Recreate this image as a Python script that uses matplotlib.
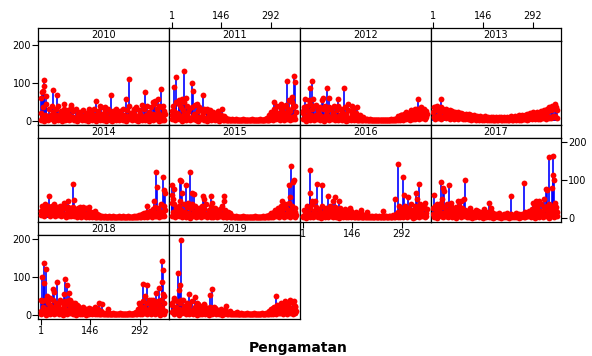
import matplotlib
matplotlib.use("Agg")
import matplotlib.pyplot as plt
import numpy as np

plt.rcParams['font.family'] = ['DejaVu Sans']

years = [2010, 2011, 2012, 2013, 2014, 2015, 2016, 2017, 2018, 2019]
x_ticks = [1, 146, 292]
y_ticks = [0, 100, 200]
x_label = "Pengamatan"

# sampling grids of daily observations (day of year)
grid_days = list(range(1, 366, 4))
low_days = list(range(3, 366, 4))

base_2010 = [20, 8, 35, 15, 45, 5, 30, 12, 40, 22, 8, 30, 15, 38, 5, 25, 12, 30, 18, 6, 28, 14, 35,
             10, 25, 5, 30, 18, 8, 22, 12, 28, 6, 20, 15, 32, 8, 24, 10, 30, 14, 5, 26, 12, 35, 18,
             8, 28, 14, 30, 5, 22, 12, 25, 8, 30, 18, 6, 26, 10, 32, 15, 5, 28, 12, 40, 20, 8, 30,
             14, 35, 10, 28, 18, 42, 8, 30, 15, 38, 22, 10, 35, 18, 45, 12, 30, 20, 40, 15, 35, 25, 18]
base_2011 = [15, 40, 25, 50, 20, 45, 10, 35, 28, 48, 15, 40, 22, 30, 8, 35, 18, 42, 12, 25, 35, 10, 28,
             20, 30, 8, 25, 15, 28, 10, 22, 5, 18, 12, 25, 8, 15, 5, 12, 4, 8, 3, 6, 3, 5, 3,
             3, 4, 2, 3, 3, 2, 4, 3, 2, 3, 3, 2, 3, 4, 2, 3, 3, 2, 3, 4, 3, 2, 5,
             4, 8, 15, 10, 22, 18, 30, 25, 40, 20, 35, 45, 28, 38, 20, 42, 30, 55, 25, 48, 35, 40, 22]
base_2012 = [20, 35, 10, 40, 25, 45, 15, 30, 38, 12, 42, 28, 18, 35, 10, 30, 40, 15, 25, 35, 8, 30, 20,
             38, 12, 28, 40, 15, 30, 22, 10, 35, 18, 28, 8, 25, 15, 30, 10, 20, 12, 8, 15, 5, 10, 5,
             4, 6, 3, 5, 3, 3, 2, 3, 3, 2, 3, 3, 2, 3, 3, 2, 3, 3, 2, 4, 3, 5, 6,
             8, 12, 6, 15, 10, 18, 12, 22, 15, 20, 28, 15, 25, 30, 18, 32, 22, 28, 35, 20, 30, 25, 18]
base_2013 = [22, 35, 28, 38, 30, 25, 36, 30, 24, 32, 26, 20, 28, 22, 26, 18, 24, 20, 22, 16, 20, 17, 19,
             14, 18, 15, 17, 12, 15, 11, 14, 9, 13, 10, 12, 8, 11, 9, 12, 8, 10, 8, 11, 7, 9, 8,
             9, 7, 10, 8, 9, 6, 10, 8, 11, 7, 9, 12, 8, 10, 13, 9, 12, 15, 10, 14, 12, 16, 13,
             18, 14, 20, 16, 22, 18, 15, 24, 20, 17, 25, 22, 28, 20, 30, 25, 35, 28, 40, 32, 45, 35, 28]
base_2014 = [18, 30, 25, 35, 20, 32, 28, 15, 30, 25, 35, 12, 28, 20, 32, 15, 25, 30, 10, 22, 28, 15, 25,
             12, 28, 20, 10, 25, 15, 28, 8, 20, 12, 25, 10, 18, 8, 15, 6, 12, 5, 10, 4, 8, 3, 5,
             3, 4, 2, 3, 5, 3, 2, 4, 3, 2, 3, 4, 2, 3, 5, 3, 2, 3, 4, 2, 3, 3, 4,
             3, 5, 4, 8, 5, 10, 6, 12, 8, 15, 10, 18, 12, 22, 15, 28, 10, 25, 18, 35, 15, 30, 20]
base_2015 = [40, 15, 35, 25, 10, 30, 45, 20, 8, 35, 15, 28, 40, 12, 25, 35, 10, 30, 18, 5, 25, 15, 30,
             10, 22, 35, 8, 20, 12, 30, 5, 18, 25, 10, 15, 22, 8, 30, 12, 20, 5, 15, 8, 12, 4, 6,
             3, 4, 2, 3, 3, 2, 4, 3, 2, 3, 3, 2, 3, 2, 3, 4, 2, 3, 3, 2, 3, 4, 3,
             5, 4, 8, 6, 12, 8, 15, 20, 10, 25, 15, 30, 20, 10, 35, 25, 15, 40, 20, 30, 12, 25, 8]
base_2016 = [5, 20, 10, 30, 15, 25, 8, 35, 18, 12, 28, 5, 22, 15, 30, 10, 20, 25, 8, 18, 30, 12, 22,
             15, 28, 10, 20, 25, 8, 18, 12, 22, 6, 15, 10, 18, 5, 12, 8, 15, 4, 10, 6, 12, 3, 8,
             5, 3, 6, 4, 3, 5, 3, 4, 6, 3, 4, 3, 5, 3, 4, 6, 3, 5, 4, 3, 8, 5, 10,
             6, 15, 10, 25, 12, 20, 30, 15, 25, 10, 35, 20, 15, 30, 22, 10, 28, 35, 18, 25, 30, 12, 22]
base_2017 = [10, 30, 20, 35, 15, 25, 40, 12, 28, 20, 35, 8, 25, 30, 15, 22, 10, 28, 18, 32, 12, 25, 15,
             20, 8, 18, 12, 25, 6, 15, 10, 20, 5, 18, 12, 8, 15, 22, 10, 6, 14, 8, 18, 5, 12, 8,
             10, 5, 12, 6, 8, 4, 10, 6, 12, 5, 8, 10, 4, 8, 6, 12, 5, 9, 6, 10, 8, 15, 10,
             12, 18, 8, 22, 15, 25, 12, 30, 20, 18, 35, 15, 28, 22, 32, 18, 35, 25, 30, 20, 38, 28, 15]
base_2018 = [10, 35, 20, 40, 15, 30, 45, 25, 12, 38, 20, 30, 8, 25, 40, 15, 30, 22, 35, 10, 28, 40, 18,
             25, 12, 30, 15, 22, 8, 18, 12, 20, 6, 15, 10, 18, 8, 14, 5, 12, 20, 8, 15, 6, 10, 4,
             6, 3, 5, 3, 4, 2, 3, 4, 2, 3, 3, 2, 4, 3, 2, 3, 3, 2, 3, 4, 2, 3, 5,
             4, 8, 15, 10, 25, 15, 35, 20, 10, 30, 40, 15, 25, 38, 20, 30, 12, 35, 25, 40, 18, 30, 10]
base_2019 = [25, 10, 40, 20, 35, 15, 30, 8, 38, 22, 12, 30, 18, 25, 10, 35, 15, 20, 8, 28, 12, 22, 15,
             10, 25, 8, 18, 12, 20, 6, 15, 10, 18, 5, 12, 8, 15, 5, 10, 12, 6, 8, 4, 10, 5, 3,
             4, 3, 5, 2, 3, 4, 3, 2, 3, 4, 2, 3, 3, 2, 4, 3, 2, 3, 3, 2, 4, 3, 3,
             5, 4, 10, 6, 15, 8, 20, 12, 25, 10, 18, 30, 15, 22, 35, 12, 28, 20, 35, 15, 30, 22, 10]

# low-level observations on the interleaved days
low_2010 = [3, 10, 0, 6, 12, 2, 8, 15, 4, 0, 10, 5, 2, 14, 7, 0, 9, 3, 12, 5, 1, 8, 4,
            11, 2, 6, 0, 9, 4, 13, 1, 7, 3, 10, 0, 5, 12, 2, 8, 4, 0, 10, 6, 2, 9, 3,
            7, 0, 11, 4, 2, 8, 0, 12, 5, 3, 9, 1, 6, 14, 2, 7, 0, 10, 4, 8, 1, 12, 5,
            2, 9, 0, 6, 13, 3, 8, 1, 11, 4, 0, 10, 6, 2, 15, 5, 8, 0, 12, 3, 7, 1]
low_2011 = [5, 12, 2, 8, 18, 4, 10, 0, 15, 6, 3, 12, 8, 1, 10, 5, 14, 2, 7, 0, 9, 4, 11,
            3, 8, 0, 6, 10, 2, 5, 8, 1, 4, 6, 0, 3, 5, 2, 3, 1, 2, 1, 2, 1, 2, 1,
            1, 2, 1, 2, 1, 1, 2, 1, 2, 1, 1, 2, 1, 2, 1, 1, 2, 1, 2, 1, 1, 2, 1,
            2, 3, 1, 5, 8, 2, 10, 4, 12, 6, 2, 15, 8, 3, 10, 5, 14, 2, 9, 6, 12, 4]
low_2012 = [4, 12, 0, 8, 15, 3, 10, 6, 1, 14, 5, 9, 2, 12, 7, 0, 10, 4, 13, 2, 8, 5, 11,
            3, 9, 1, 12, 6, 2, 10, 4, 0, 8, 3, 6, 1, 5, 2, 4, 1, 3, 2, 1, 2, 1, 2,
            1, 2, 1, 1, 2, 1, 1, 2, 1, 1, 2, 1, 1, 2, 1, 1, 2, 1, 2, 1, 2, 2, 3,
            2, 4, 3, 6, 2, 8, 4, 10, 5, 3, 12, 6, 9, 4, 14, 8, 5, 12, 7, 10, 4, 9]
low_2013 = [10, 6, 12, 8, 14, 5, 11, 9, 13, 7, 10, 12, 6, 9, 11, 5, 8, 10, 6, 9, 7, 5, 8,
            4, 7, 5, 6, 3, 5, 4, 6, 2, 5, 3, 4, 2, 4, 3, 5, 2, 3, 4, 2, 3, 2, 3,
            2, 3, 4, 2, 3, 2, 4, 3, 2, 3, 4, 2, 3, 5, 3, 4, 2, 5, 3, 6, 4, 5, 3,
            6, 4, 7, 5, 8, 4, 9, 6, 8, 5, 10, 7, 9, 6, 12, 8, 10, 7, 13, 9, 12, 8]
low_2014 = [8, 15, 5, 12, 18, 10, 6, 14, 9, 12, 4, 16, 8, 11, 5, 13, 7, 10, 3, 12, 6, 9, 4,
            10, 5, 8, 2, 12, 6, 3, 9, 4, 7, 2, 5, 3, 6, 2, 4, 1, 3, 2, 1, 2, 1, 2,
            1, 2, 1, 1, 2, 1, 2, 1, 1, 2, 1, 1, 2, 1, 1, 2, 1, 2, 1, 1, 2, 1, 2,
            1, 2, 1, 3, 2, 4, 2, 5, 3, 7, 4, 8, 2, 10, 5, 6, 12, 3, 9, 4, 11, 6]
low_2015 = [5, 12, 2, 8, 15, 4, 10, 1, 13, 6, 3, 11, 7, 0, 9, 4, 14, 2, 8, 5, 12, 1, 7,
            4, 10, 2, 6, 12, 3, 8, 1, 5, 9, 2, 6, 4, 10, 1, 5, 3, 2, 4, 1, 3, 2, 1,
            1, 2, 1, 1, 2, 1, 1, 2, 1, 1, 2, 1, 1, 2, 1, 1, 2, 1, 1, 2, 1, 2, 1,
            2, 1, 3, 2, 5, 2, 8, 4, 10, 3, 7, 12, 5, 2, 9, 6, 14, 3, 8, 11, 4, 2]
low_2016 = [2, 8, 0, 5, 12, 3, 9, 1, 6, 4, 11, 2, 7, 0, 10, 5, 3, 8, 1, 12, 4, 6, 2,
            9, 3, 5, 0, 8, 4, 2, 7, 1, 5, 3, 6, 2, 4, 1, 3, 2, 1, 3, 2, 1, 2, 1,
            2, 1, 2, 1, 2, 1, 2, 1, 2, 1, 2, 1, 2, 1, 2, 1, 2, 1, 2, 1, 3, 2, 4,
            2, 6, 3, 8, 1, 10, 5, 2, 12, 4, 7, 0, 9, 3, 14, 6, 2, 10, 5, 8, 1, 6]
low_2017 = [3, 10, 0, 7, 14, 4, 9, 2, 12, 5, 1, 8, 15, 3, 10, 6, 0, 9, 4, 12, 2, 7, 5,
            8, 1, 6, 3, 10, 0, 5, 2, 8, 4, 1, 6, 3, 0, 5, 2, 7, 1, 4, 3, 0, 6, 2,
            4, 1, 3, 0, 5, 2, 4, 1, 3, 0, 5, 2, 6, 1, 3, 4, 0, 5, 2, 7, 3, 1, 6,
            4, 8, 2, 10, 5, 0, 12, 6, 3, 9, 14, 2, 8, 5, 11, 0, 10, 6, 13, 3, 9, 5]
low_2018 = [2, 12, 5, 0, 15, 8, 3, 10, 18, 1, 9, 6, 14, 2, 11, 4, 0, 12, 7, 3, 15, 5, 9,
            2, 8, 0, 10, 5, 3, 7, 1, 9, 4, 0, 6, 2, 8, 3, 5, 1, 4, 2, 3, 1, 2, 1,
            1, 2, 1, 1, 2, 1, 1, 2, 1, 1, 2, 1, 1, 2, 1, 1, 2, 1, 1, 2, 1, 2, 1,
            2, 1, 5, 3, 8, 2, 12, 5, 1, 10, 15, 3, 8, 12, 2, 9, 5, 14, 0, 10, 6, 3]
low_2019 = [8, 2, 14, 5, 10, 0, 12, 4, 7, 15, 3, 9, 1, 11, 6, 2, 8, 4, 0, 10, 3, 6, 2,
            5, 1, 8, 3, 0, 6, 2, 9, 4, 1, 5, 3, 7, 0, 4, 2, 5, 1, 3, 2, 1, 2, 1,
            1, 2, 1, 1, 2, 1, 1, 2, 1, 1, 2, 1, 1, 2, 1, 1, 2, 1, 1, 2, 1, 1, 2,
            1, 2, 3, 1, 5, 2, 8, 3, 10, 4, 6, 12, 2, 9, 15, 3, 10, 6, 14, 2, 8, 4]

# high-value days (peaks) per year
peak_days_2010 = [2, 5, 8, 10, 12, 17, 36, 50, 70, 89, 163, 175, 190, 207, 251, 261, 275, 306, 329, 336, 345, 354, 360]
peak_vals_2010 = [60, 75, 78, 92, 107, 65, 82, 67, 45, 42, 53, 40, 37, 67, 56, 109, 28, 75, 50, 52, 56, 84, 38]
peak_days_2011 = [3, 8, 14, 22, 32, 38, 44, 61, 63, 76, 94, 105, 149, 300, 338, 353, 360, 363]
peak_vals_2011 = [25, 88, 115, 55, 58, 130, 60, 100, 77, 45, 67, 30, 30, 50, 105, 62, 117, 103]
peak_days_2012 = [3, 7, 20, 23, 29, 32, 58, 61, 73, 79, 105, 122, 135, 146, 161, 290, 309, 338]
peak_vals_2012 = [25, 58, 55, 85, 105, 58, 55, 60, 85, 60, 57, 85, 45, 38, 35, 15, 15, 58]
peak_days_2013 = [23, 3]
peak_vals_2013 = [58, 35]
peak_days_2014 = [24, 68, 81, 97, 99, 126, 141, 160, 311, 333, 338, 342, 360, 362, 365]
peak_vals_2014 = [57, 40, 45, 88, 47, 28, 28, 18, 30, 45, 120, 80, 106, 72, 65]
peak_days_2015 = [1, 3, 5, 8, 24, 28, 32, 44, 54, 61, 66, 93, 97, 116, 119, 153, 155, 324, 346, 349, 351, 356, 358, 363]
peak_vals_2015 = [60, 85, 50, 75, 100, 97, 65, 86, 120, 65, 62, 58, 48, 58, 40, 58, 45, 45, 85, 55, 135, 95, 100, 15]
peak_days_2016 = [22, 23, 27, 37, 42, 58, 76, 90, 97, 108, 139, 173, 188, 236, 270, 280, 283, 295, 298, 309, 332, 337, 341, 343, 358]
peak_vals_2016 = [125, 65, 45, 45, 88, 87, 58, 45, 55, 45, 25, 20, 15, 18, 48, 140, 30, 107, 60, 55, 65, 50, 88, 30, 40]
peak_days_2017 = [1, 4, 25, 28, 30, 32, 47, 54, 74, 83, 90, 93, 164, 169, 229, 266, 292, 302, 312, 325, 330, 334, 341, 349, 351, 353, 354, 361]
peak_vals_2017 = [25, 60, 95, 50, 78, 70, 85, 40, 45, 45, 50, 98, 40, 25, 57, 90, 40, 45, 45, 50, 75, 72, 160, 78, 112, 163, 98, 18]
peak_days_2018 = [2, 5, 10, 12, 16, 19, 29, 37, 41, 48, 53, 68, 73, 78, 83, 88, 97, 107, 172, 180, 199, 290, 302, 308, 311, 325, 338, 348, 355, 357, 358, 360, 362]
peak_vals_2018 = [40, 98, 135, 83, 120, 50, 45, 68, 60, 87, 30, 55, 95, 78, 58, 40, 30, 25, 32, 28, 15, 30, 80, 48, 78, 40, 57, 70, 140, 85, 55, 117, 50]
peak_days_2019 = [1, 8, 19, 22, 25, 27, 29, 51, 69, 74, 97, 112, 119, 124, 160, 192, 297, 307, 318, 336, 348, 358, 363]
peak_vals_2019 = [30, 45, 110, 65, 78, 195, 40, 55, 47, 30, 28, 53, 67, 20, 22, 8, 18, 50, 20, 32, 40, 35, 20]

base = {2010: base_2010, 2011: base_2011, 2012: base_2012, 2013: base_2013, 2014: base_2014,
        2015: base_2015, 2016: base_2016, 2017: base_2017, 2018: base_2018, 2019: base_2019}
low = {2010: low_2010, 2011: low_2011, 2012: low_2012, 2013: low_2013, 2014: low_2014,
       2015: low_2015, 2016: low_2016, 2017: low_2017, 2018: low_2018, 2019: low_2019}
peaks = {2010: (peak_days_2010, peak_vals_2010), 2011: (peak_days_2011, peak_vals_2011),
         2012: (peak_days_2012, peak_vals_2012), 2013: (peak_days_2013, peak_vals_2013),
         2014: (peak_days_2014, peak_vals_2014), 2015: (peak_days_2015, peak_vals_2015),
         2016: (peak_days_2016, peak_vals_2016), 2017: (peak_days_2017, peak_vals_2017),
         2018: (peak_days_2018, peak_vals_2018), 2019: (peak_days_2019, peak_vals_2019)}

W, H = 592, 356
fig = plt.figure(figsize=(W / 100, H / 100), dpi=100)

col_left = [38, 169, 300, 430.5]
col_w = 130.7
row_top = [28, 125, 222]
strip_h = 12.7
row_h = 97
xlim = (-7, 376)
ylim = (-11, 210)
fs = 7

def fr(x, y, w, h):
    return [x / W, 1 - (y + h) / H, w / W, h / H]

for k, yr in enumerate(years):
    r, c = divmod(k, 4)
    x0 = col_left[c]
    y0 = row_top[r]
    # strip
    sax = fig.add_axes(fr(x0, y0, col_w, strip_h))
    sax.set_xlim(xlim)
    sax.set_ylim(0, 1)
    sax.set_yticks([])
    sax.text(0.5, 0.45, str(yr), transform=sax.transAxes, ha='center', va='center', fontsize=fs)
    for s in sax.spines.values():
        s.set_linewidth(0.9)
    if r == 0 and c in (1, 3):
        sax.xaxis.tick_top()
        sax.set_xticks(x_ticks)
        sax.set_xticklabels([str(t) for t in x_ticks], fontsize=fs)
        sax.tick_params(axis='x', direction='out', length=4, width=0.8, pad=1)
    else:
        sax.set_xticks([])
    # panel
    ax = fig.add_axes(fr(x0, y0 + strip_h, col_w, row_h - strip_h))
    ax.set_xlim(xlim)
    ax.set_ylim(ylim)
    for s in ax.spines.values():
        s.set_linewidth(0.9)
    bv = base[yr]
    bd = grid_days[:len(bv)]
    lv = low[yr]
    ld = low_days[:len(lv)]
    lv = lv[:len(ld)]
    pd_, pv = peaks[yr]
    for dd, vv in ((bd, bv), (ld, lv), (pd_, pv)):
        ax.vlines(dd, 0, vv, color='blue', lw=1.2, zorder=2)
    for dd, vv in ((bd, bv), (ld, lv), (pd_, pv)):
        ax.plot(dd, vv, 'o', color='red', ms=4.2, mew=0, zorder=3)
    # x ticks at bottom
    if (r == 2 and c == 0) or (r == 1 and c == 2):
        ax.set_xticks(x_ticks)
        ax.set_xticklabels([str(t) for t in x_ticks], fontsize=fs)
        ax.tick_params(axis='x', direction='out', length=4, width=0.8, pad=1)
    else:
        ax.set_xticks([])
    # y ticks
    if c == 0 and r in (0, 2):
        ax.set_yticks(y_ticks)
        ax.set_yticklabels([str(t) for t in y_ticks], fontsize=fs)
        ax.tick_params(axis='y', direction='out', length=4, width=0.8, pad=1)
    elif r == 1 and c == 3:
        ax.yaxis.tick_right()
        ax.set_yticks(y_ticks)
        ax.set_yticklabels([str(t) for t in y_ticks], fontsize=fs)
        ax.tick_params(axis='y', direction='out', length=4, width=0.8, pad=1)
    else:
        ax.set_yticks([])

fig.text(298 / W, 1 - 348 / H, x_label, ha='center', va='center', fontsize=10, fontweight='bold')

fig.savefig("out.png", dpi=100)
